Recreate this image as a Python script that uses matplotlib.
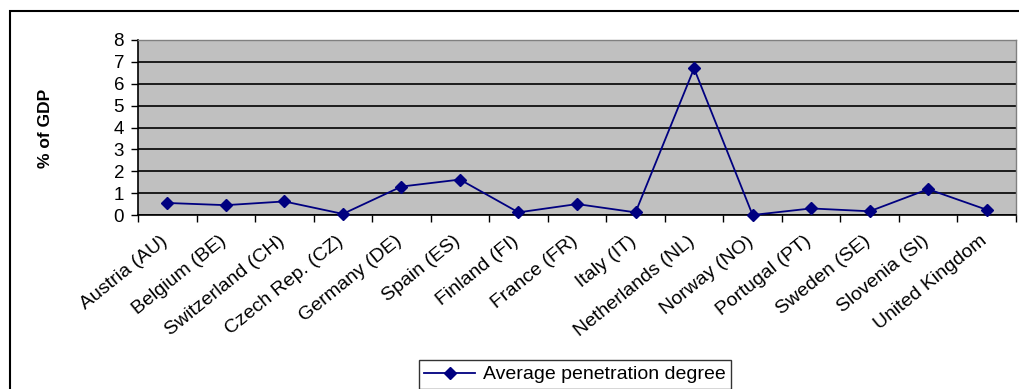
import matplotlib
matplotlib.use("Agg")
import matplotlib.pyplot as plt
from matplotlib.patches import Rectangle
from matplotlib.transforms import ScaledTranslation
import numpy as np

countries = ["Austria (AU)", "Belgium (BE)", "Switzerland (CH)", "Czech Rep. (CZ)",
             "Germany (DE)", "Spain (ES)", "Finland (FI)", "France (FR)", "Italy (IT)",
             "Netherlands (NL)", "Norway (NO)", "Portugal (PT)", "Sweden (SE)",
             "Slovenia (SI)", "United Kingdom"]
penetration = [0.55, 0.45, 0.62, 0.05, 1.30, 1.62, 0.12, 0.50, 0.12,
               6.70, 0.00, 0.30, 0.17, 1.18, 0.24]
yticks = [0, 1, 2, 3, 4, 5, 6, 7, 8]

plt.rcParams['font.family'] = ['Liberation Sans', 'DejaVu Sans']

W, H = 1019, 389
fig = plt.figure(figsize=(W / 100, H / 100), dpi=100)
ax = fig.add_axes([138 / W, 1 - 215 / H, (1016 - 138) / W, (215 - 40) / H])
ax.set_facecolor("#C0C0C0")

x = np.arange(len(countries))
ax.plot(x, penetration, color="#000080", lw=1.3, marker="D", markersize=6.5,
        label="Average penetration degree", zorder=3, clip_on=False)

ax.set_xlim(-0.5, len(countries) - 0.5)
ax.set_ylim(0, 8)
ax.set_yticks(yticks)
ax.set_yticklabels([str(v) for v in yticks], fontsize=13.5)
ax.yaxis.grid(True, color="black", lw=1.2)
ax.set_axisbelow(True)
ax.tick_params(axis="y", direction="out", length=5, width=1, pad=5)

ax.set_xticks(x)
ax.set_xticklabels(countries, rotation=39, ha="right", va="top",
                   rotation_mode="anchor", fontsize=14)
ax.tick_params(axis="x", which="major", length=0, pad=9)
ax.set_xticks(np.arange(-0.5, len(countries)), minor=True)
ax.tick_params(axis="x", which="minor", direction="out", length=5, width=1)
shift = ScaledTranslation(-7 / 100, -5 / 100, fig.dpi_scale_trans)
for lbl in ax.get_xticklabels():
    lbl.set_transform(lbl.get_transform() + shift)

for s in ["left", "bottom"]:
    ax.spines[s].set_color("black")
    ax.spines[s].set_linewidth(1.2)
for s in ["top", "right"]:
    ax.spines[s].set_color("#808080")
    ax.spines[s].set_linewidth(1.0)

fig.text(45 / W, 1 - 128 / H, "% of GDP", rotation=90, ha="center", va="center",
         fontsize=12.5, fontweight="bold")

# outer chart border
fig.patches.append(Rectangle((10 / W, -0.1), 1.2, 1 - 11 / H + 0.1,
                             transform=fig.transFigure, fill=False,
                             edgecolor="black", lw=1.5))

leg = fig.legend(loc="upper center", bbox_to_anchor=(575 / W, 1 - 360 / H),
                 fontsize=14, frameon=True, fancybox=False, edgecolor="black",
                 handlelength=2.6, borderpad=0.3, handletextpad=0.4,
                 borderaxespad=0)
leg.get_frame().set_linewidth(1.0)

fig.savefig("out.png", dpi=100)
